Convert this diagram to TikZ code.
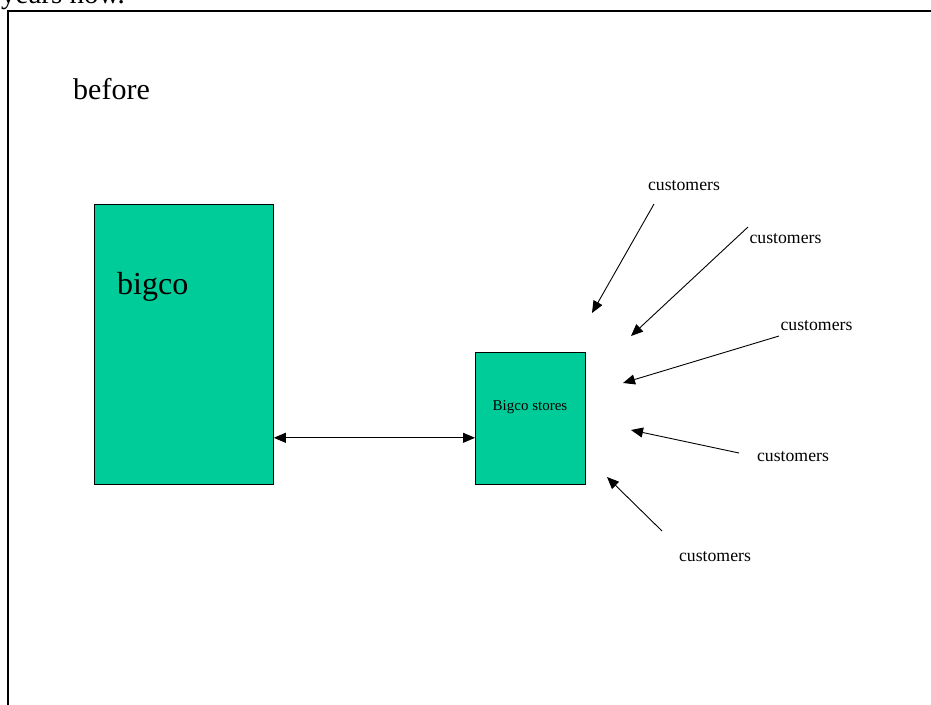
\documentclass[tikz,border=0pt]{standalone}
\usepackage{fontspec}
\setmainfont{Liberation Serif}
\usetikzlibrary{arrows.meta,positioning,calc}
\definecolor{bigcogreen}{HTML}{00CC99}

\begin{document}
\begin{tikzpicture}[
    x=1pt, y=-1pt,
    store/.style={rectangle, draw=black, line width=0.8pt, fill=bigcogreen, inner sep=0pt, anchor=north west},
    title/.style={font=\fontsize{30}{34}\selectfont, anchor=base west, inner sep=0pt},
    cust/.style={font=\fontsize{17.7}{20}\selectfont, anchor=base, inner sep=0pt},
    arrow/.style={-{Triangle[length=12pt,width=10pt]}, line width=0.9pt},
    link/.style={{Triangle[length=12pt,width=10pt]}-{Triangle[length=12pt,width=10pt]}, line width=0.9pt}
]
    \useasboundingbox (0,0) rectangle (931,704);
    \clip (0,0) rectangle (931,704);

    % Slide frame and cut-off text above it
    \node[title, font=\fontsize{29}{32}\selectfont] (prev) at (1,3) {years now.};
    \draw[line width=2pt] (940,11) -- (8,11) -- (8,710);

    \node[title] (before) at (73,99) {before};

    % Company and stores
    \node[store, minimum width=179pt, minimum height=280pt] (bigco) at (94,204) {};
    \node[title, font=\fontsize{32}{36}\selectfont] (bigcolabel) at (117,294) {bigco};

    \node[store, minimum width=110pt, minimum height=132pt] (stores) at (475,352) {};
    \node[font=\fontsize{15}{18}\selectfont, anchor=base] (storeslabel) at (530,410) {Bigco stores};

    \draw[link] ($(bigco.south east)+(0,-47)$) coordinate (linkstart) -- (linkstart -| stores.west);

    % Customers
    \node[cust] (cust1) at (684,190) {customers};
    \node[cust] (cust2) at (785.5,243) {customers};
    \node[cust] (cust3) at (816.5,330) {customers};
    \node[cust] (cust4) at (793,461.5) {customers};
    \node[cust] (cust5) at (715,561.5) {customers};

    \coordinate (from1) at (654,204);  \coordinate (to1) at (592,313);
    \coordinate (from2) at (748,227);  \coordinate (to2) at (631,336);
    \coordinate (from3) at (779,336);  \coordinate (to3) at (623,383);
    \coordinate (from4) at (739,453);  \coordinate (to4) at (631,430);
    \coordinate (from5) at (662,531);  \coordinate (to5) at (607,477);

    \foreach \i in {1,...,5}
        \draw[arrow] (from\i) -- (to\i);

\end{tikzpicture}
\end{document}
